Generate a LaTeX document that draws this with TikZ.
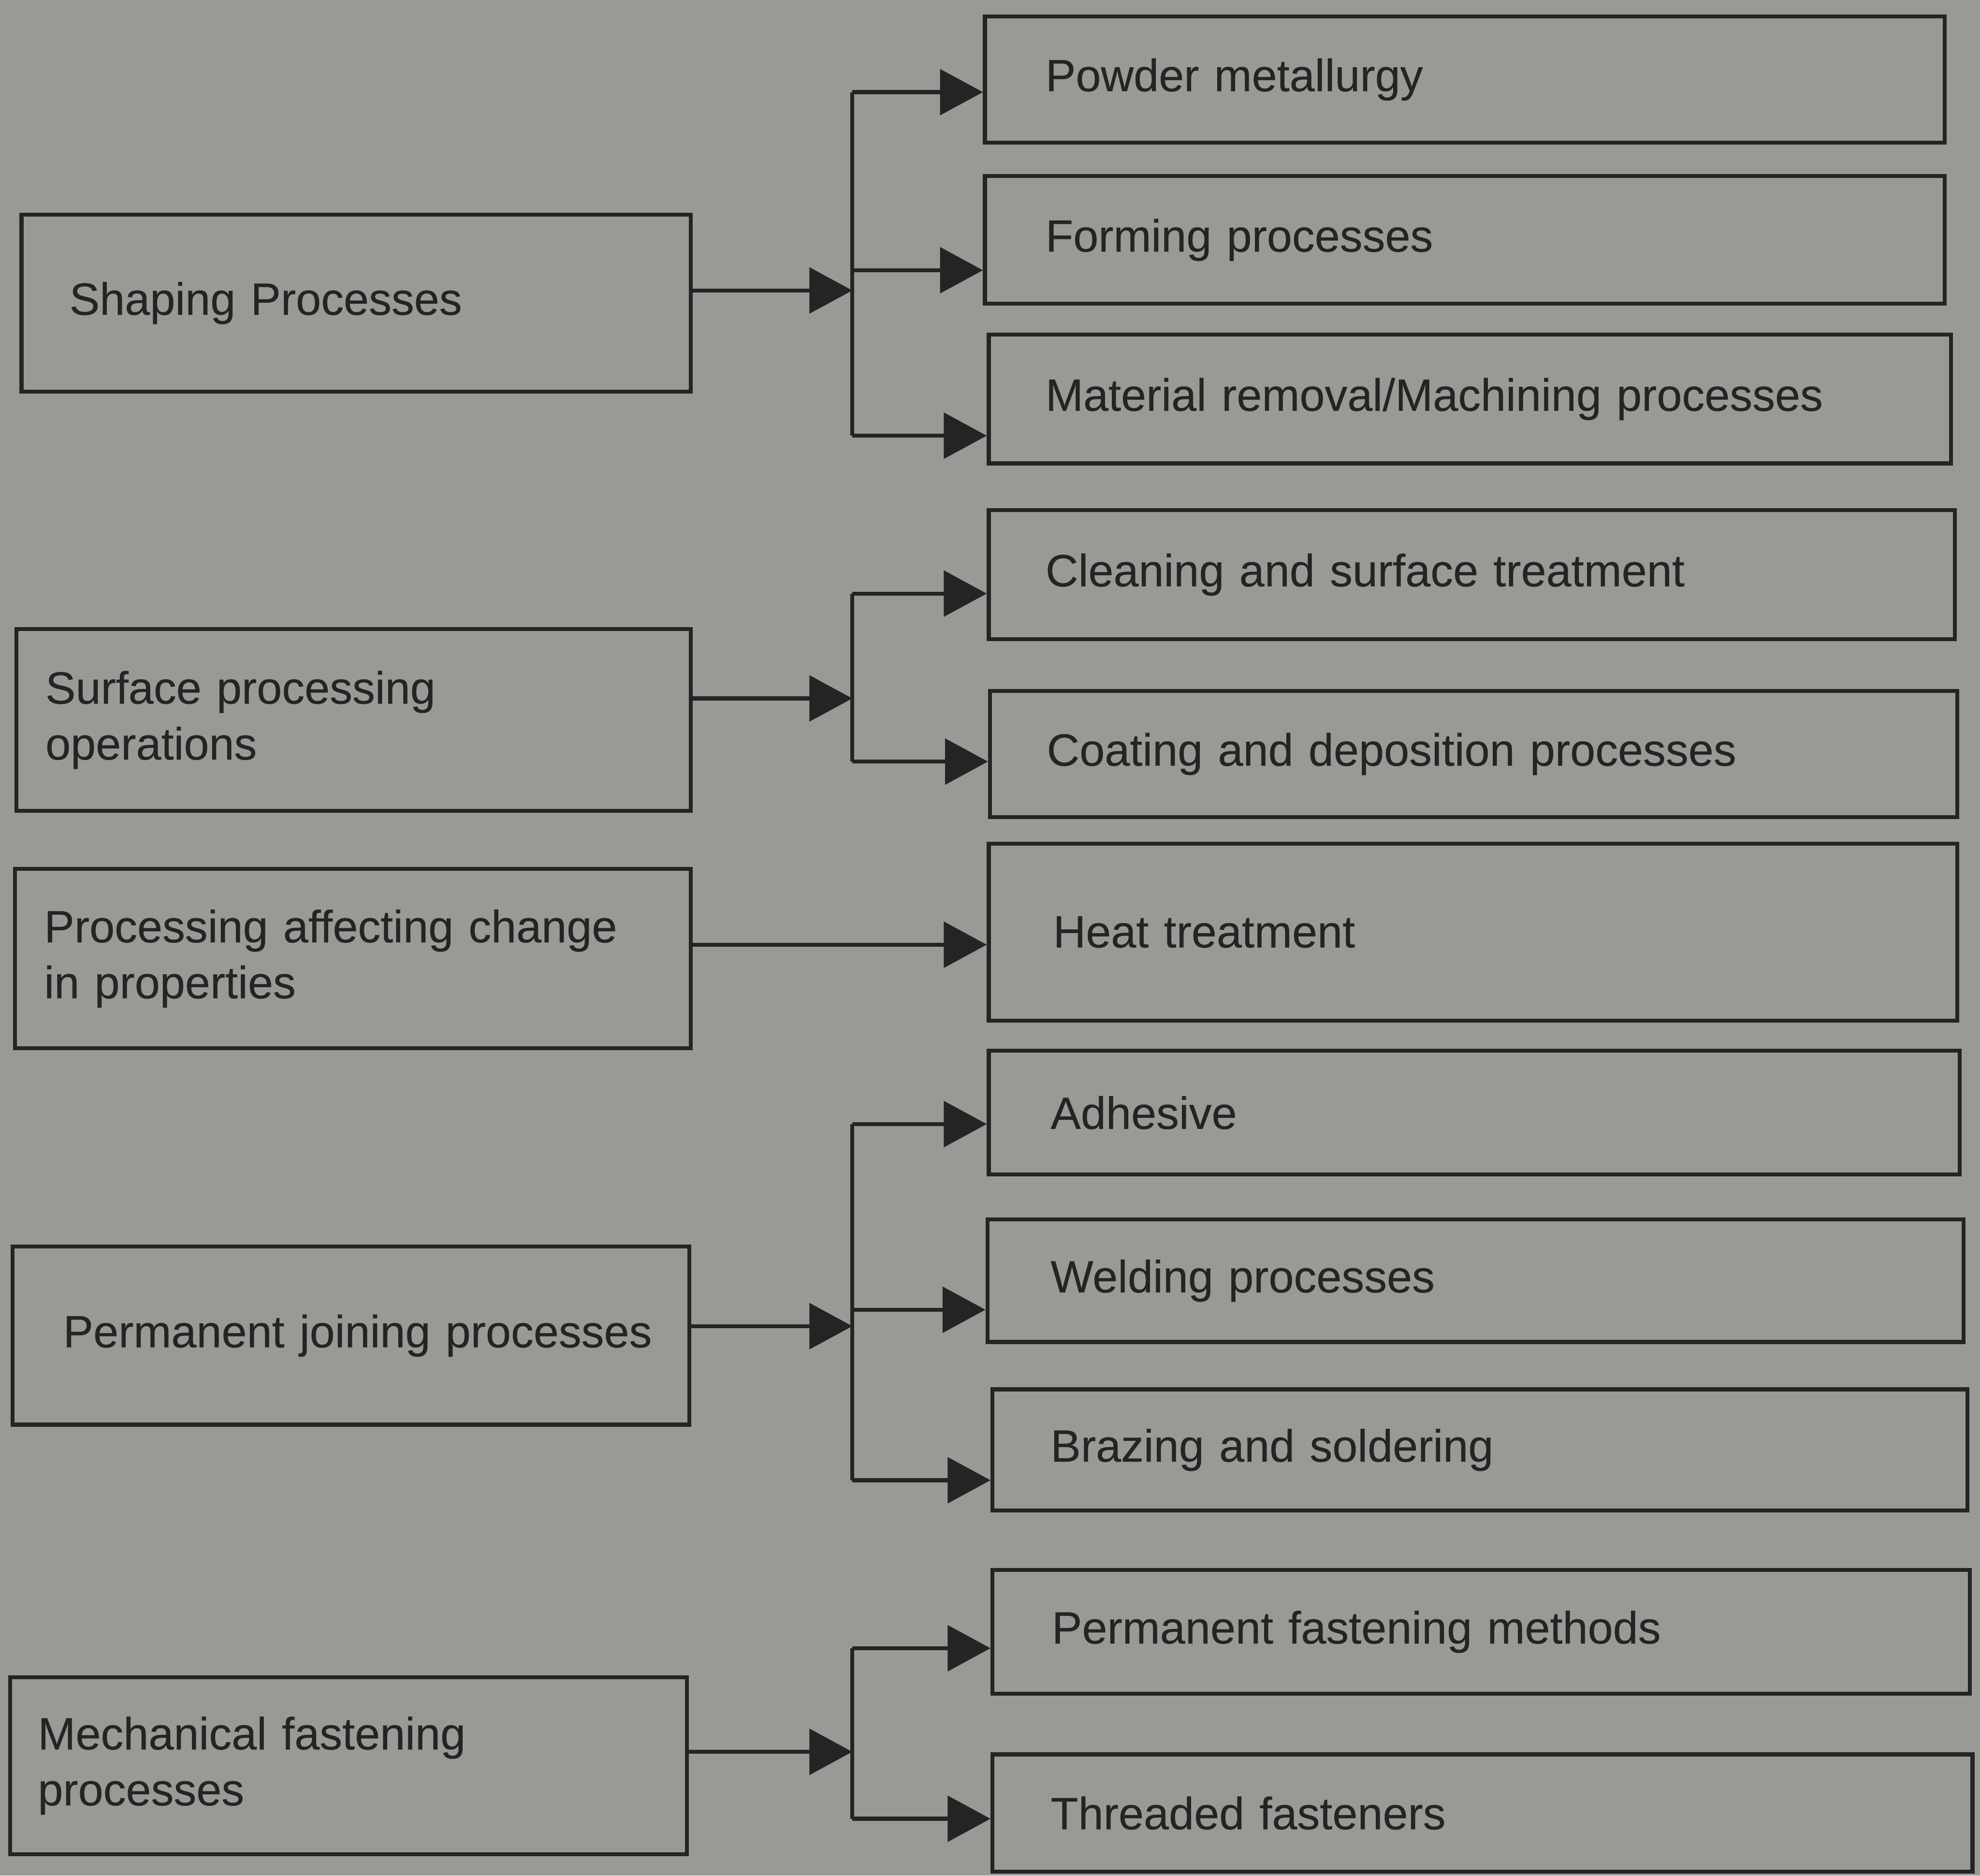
\documentclass[tikz,border=0pt]{standalone}
\usepackage{fontspec}
\setmainfont{Liberation Sans}[WordSpace=1.4,FakeBold=0.25]
\usetikzlibrary{arrows.meta}
\definecolor{paper}{RGB}{152,154,150}
\definecolor{ink}{RGB}{36,36,36}
\tikzset{
  box/.style={draw=ink, line width=0.9pt, rectangle, inner ysep=0pt, align=left,
              text=ink, font=\fontsize{10.2}{12.6}\selectfont},
  wire/.style={draw=ink, line width=0.9pt},
  arr/.style={draw=ink, line width=0.9pt, -{Triangle[length=3.4mm,width=3.6mm]}}
}
\begin{document}
\begin{tikzpicture}
\useasboundingbox (0,0) rectangle (15.68,14.85);
\fill[paper] (0,0) rectangle (15.68,14.85);

% left boxes
\node[box, minimum height=1.40cm, text width=4.54cm, inner xsep=0.38cm] (shaping) at (2.82,12.45) {\mbox{Shaping Processes}};
\node[box, minimum height=1.44cm, text width=4.88cm, inner xsep=0.23cm] (surface) at (2.80,9.15) {\mbox{Surface processing}\\\mbox{operations}};
\node[box, minimum height=1.42cm, text width=4.89cm, inner xsep=0.23cm] (props) at (2.795,7.26) {\mbox{Processing affecting change}\\\mbox{in properties}};
\node[box, minimum height=1.41cm, text width=4.56cm, inner xsep=0.40cm] (joining) at (2.78,4.275) {\mbox{Permanent joining processes}};
\node[box, minimum height=1.40cm, text width=4.92cm, inner xsep=0.22cm] (mech) at (2.76,0.87) {\mbox{Mechanical fastening}\\\mbox{processes}};

% right boxes
\node[box, minimum height=1.00cm, text width=6.64cm, inner xsep=0.48cm] (powder) at (11.60,14.22) {\mbox{Powder metallurgy}};
\node[box, minimum height=1.01cm, text width=6.64cm, inner xsep=0.48cm] (forming) at (11.60,12.95) {\mbox{Forming processes}};
\node[box, minimum height=1.02cm, text width=6.72cm, inner xsep=0.45cm] (machining) at (11.64,11.69) {\mbox{Material removal/Machining processes}};
\node[box, minimum height=1.02cm, text width=6.75cm, inner xsep=0.45cm] (cleaning) at (11.655,10.30) {\mbox{Cleaning and surface treatment}};
\node[box, minimum height=1.00cm, text width=6.76cm, inner xsep=0.45cm] (coating) at (11.67,8.88) {\mbox{Coating and deposition processes}};
\node[box, minimum height=1.40cm, text width=6.65cm, inner xsep=0.51cm] (heat) at (11.665,7.47) {\mbox{Heat treatment}};
\node[box, minimum height=0.98cm, text width=6.71cm, inner xsep=0.49cm] (adhesive) at (11.675,6.04) {\mbox{Adhesive}};
\node[box, minimum height=0.97cm, text width=6.73cm, inner xsep=0.50cm] (welding) at (11.685,4.71) {\mbox{Welding processes}};
\node[box, minimum height=0.96cm, text width=6.80cm, inner xsep=0.46cm] (brazing) at (11.72,3.37) {\mbox{Brazing and soldering}};
\node[box, minimum height=0.98cm, text width=6.80cm, inner xsep=0.47cm] (permfast) at (11.73,1.93) {\mbox{Permanent fastening methods}};
\node[box, minimum height=0.93cm, text width=6.84cm, inner xsep=0.46cm] (threaded) at (11.74,0.495) {\mbox{Threaded fasteners}};

% shaping group
\coordinate (h1) at (6.75,12.55);
\coordinate (h1a) at (6.75,14.12);
\coordinate (h1b) at (6.75,12.71);
\coordinate (h1c) at (6.75,11.40);
\draw[arr] (shaping.east |- h1) -- (h1);
\draw[wire] (h1a) -- (h1c);
\draw[arr] (h1a) -- (h1a -| powder.west);
\draw[arr] (h1b) -- (h1b -| forming.west);
\draw[arr] (h1c) -- (h1c -| machining.west);

% surface group
\coordinate (h2) at (6.75,9.32);
\coordinate (h2a) at (6.75,10.15);
\coordinate (h2b) at (6.75,8.82);
\draw[arr] (surface.east |- h2) -- (h2);
\draw[wire] (h2a) -- (h2b);
\draw[arr] (h2a) -- (h2a -| cleaning.west);
\draw[arr] (h2b) -- (h2b -| coating.west);

% properties
\coordinate (h3) at (6.75,7.37);
\draw[arr] (props.east |- h3) -- (h3 -| heat.west);

% joining group
\coordinate (h4) at (6.75,4.35);
\coordinate (h4a) at (6.75,5.95);
\coordinate (h4b) at (6.75,4.48);
\coordinate (h4c) at (6.75,3.13);
\draw[arr] (joining.east |- h4) -- (h4);
\draw[wire] (h4a) -- (h4c);
\draw[arr] (h4a) -- (h4a -| adhesive.west);
\draw[arr] (h4b) -- (h4b -| welding.west);
\draw[arr] (h4c) -- (h4c -| brazing.west);

% mechanical group
\coordinate (h5) at (6.75,0.98);
\coordinate (h5a) at (6.75,1.80);
\coordinate (h5b) at (6.75,0.45);
\draw[arr] (mech.east |- h5) -- (h5);
\draw[wire] (h5a) -- (h5b);
\draw[arr] (h5a) -- (h5a -| permfast.west);
\draw[arr] (h5b) -- (h5b -| threaded.west);
\end{tikzpicture}
\end{document}
